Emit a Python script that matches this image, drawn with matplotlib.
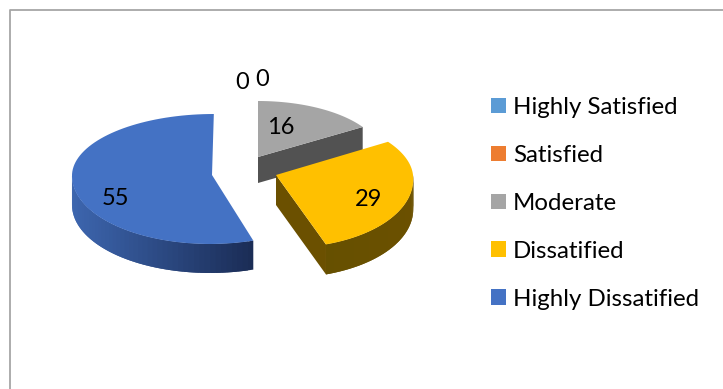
#!/usr/bin/env python3
import numpy as np
import matplotlib
matplotlib.use("Agg")
import matplotlib.pyplot as plt
from matplotlib.patches import Patch
from matplotlib.colors import to_rgb

# data
categories = ["Highly Satisfied", "Satisfied", "Moderate", "Dissatified", "Highly Dissatified"]
values = [0, 0, 16, 29, 55]

colors = ["#5B9BD5", "#ED7D31", "#A5A5A5", "#FFC000", "#4472C4"]
# wall colours, from the left end of a slice to the right end
wall_left = ["#5B9BD5", "#ED7D31", "#525252", "#665000", "#3D66AF"]
wall_right = ["#5B9BD5", "#ED7D31", "#525252", "#6B5000", "#1A2C55"]
cut_color = ["#5B9BD5", "#ED7D31", "#525252", "#6B5000", "#1A2C55"]

# look of each slice in picture pixels: apex, radii, shear, thickness
apex_x = [258, 258, 258, 276, 212]
apex_y = [157, 157, 157, 175, 175]
rad_x = [124, 124, 124, 137, 140]
rad_up = [56, 56, 56, 62, 61]
rad_down = [60, 60, 60, 73, 69]
shear = [0, 0, 0, 0.11, -0.03]
depth = [26, 26, 26, 30, 29]

label_x = [242, 262, 281, 369, 115]
label_y = [82, 79, 127, 199, 198]

W, H = 723, 389
plt.rcParams["font.family"] = ["Lato", "DejaVu Sans"]
FS = 17.3
FS_NUM = 17


def arc(i, t):
    s = np.sin(t)
    dy = np.where(s > 0, -rad_up[i] * s, -rad_down[i] * s)
    return apex_x[i] + rad_x[i] * np.cos(t) + shear[i] * dy, apex_y[i] + dy


def draw_slice(ax, i, t1, t2):
    # t1 > t2, we go clockwise
    t = np.linspace(t1, t2, 90)
    x, y = arc(i, t)

    # cut face, only the ones turned to the viewer
    if i == 2 or i == 3:
        ex, ey = arc(i, np.array(t2))
        ax.fill([apex_x[i], ex, ex, apex_x[i]],
                [apex_y[i], ey, ey + depth[i], apex_y[i] + depth[i]],
                color=cut_color[i], lw=0, zorder=2 + i)

    # outer wall in strips for the shading, front part only
    front = np.sin(t) < 0.03
    xw, yw = x[front], y[front]
    if len(xw) > 2:
        c0, c1 = np.array(to_rgb(wall_left[i])), np.array(to_rgb(wall_right[i]))
        xmin, xmax = xw.min(), xw.max()
        for k in range(len(xw) - 1):
            k2 = min(k + 2, len(xw) - 1)  # overlap so no seams show
            f = (0.5 * (xw[k] + xw[k + 1]) - xmin) / (xmax - xmin)
            ax.fill([xw[k], xw[k2], xw[k2], xw[k]],
                    [yw[k], yw[k2], yw[k2] + depth[i], yw[k] + depth[i]],
                    color=c0 + (c1 - c0) * f, lw=0, zorder=2 + i)

    # top face
    ax.fill(np.r_[apex_x[i], x], np.r_[apex_y[i], y], color=colors[i], lw=0, zorder=12 + i)


def main():
    fig = plt.figure(figsize=(W / 100, H / 100), dpi=100)
    ax = fig.add_axes([0, 0, 1, 1])
    ax.set_xlim(0, W)
    ax.set_ylim(H, 0)
    ax.axis("off")

    # chart border, runs off the picture on the right and bottom
    ax.plot([9.5, 9.5, W + 5], [H + 5, 9.5, 9.5], color="#A6A6A6", lw=1.3)

    # clockwise from the top, like the spreadsheet does it
    edges = np.pi / 2 - 2 * np.pi * np.r_[0, np.cumsum(values)] / np.sum(values)
    for i in range(len(values)):
        if values[i] > 0:
            draw_slice(ax, i, edges[i], edges[i + 1])

    for i, v in enumerate(values):
        ax.text(label_x[i], label_y[i], str(v), fontsize=FS_NUM, color="black",
                ha="center", va="center", zorder=30)

    handles = [Patch(facecolor=c, edgecolor="none") for c in colors]
    ax.legend(handles, categories, loc="upper left", bbox_to_anchor=(491 / W, 1 - 97 / H),
              frameon=False, fontsize=FS, handlelength=0.625, handleheight=0.625,
              handletextpad=0.29, labelspacing=1.12, borderpad=0, borderaxespad=0)

    fig.savefig("out.png", dpi=100)


if __name__ == '__main__':
    main()
